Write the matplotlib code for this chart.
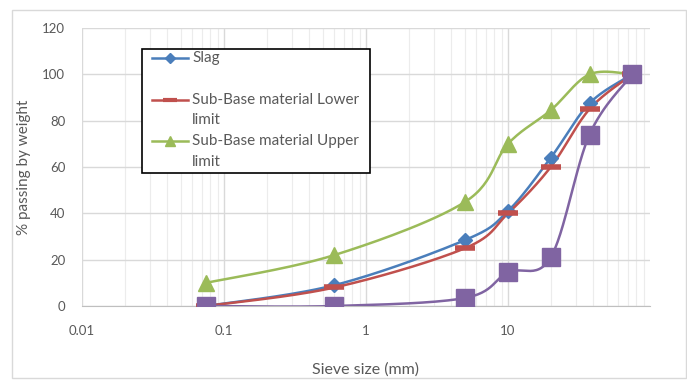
import numpy as np
import matplotlib
matplotlib.use("Agg")
import matplotlib.pyplot as plt
from matplotlib.patches import Rectangle
from matplotlib.lines import Line2D
from matplotlib.ticker import FixedLocator, NullFormatter

plt.rcParams['font.family'] = ['Lato', 'DejaVu Sans']

# sieve sizes (mm)
sieve = [0.075, 0.6, 5, 10, 20, 37.5, 75]

# % passing
slag = [0, 9, 28.5, 41, 64, 87.5, 100]
lower = [0, 8, 25, 40, 60, 85, 100]
upper = [10, 22, 45, 70, 84.5, 100, 100]
other = [0, 0, 3.5, 14.5, 21, 74, 100]

labels = ["Slag", "Sub-Base material Lower\nlimit", "Sub-Base material Upper\nlimit"]

W, H = 687, 381


def smooth(xs, ys, n=30):
    # Excel-like smoothed line: Catmull-Rom bezier in (log x, y) space
    lx = np.log10(xs)
    y = np.asarray(ys, float)
    px, py = [], []
    m = len(lx)
    for i in range(m - 1):
        p0 = (lx[max(i - 1, 0)], y[max(i - 1, 0)])
        p1 = (lx[i], y[i])
        p2 = (lx[i + 1], y[i + 1])
        p3 = (lx[min(i + 2, m - 1)], y[min(i + 2, m - 1)])
        c1 = (p1[0] + (p2[0] - p0[0]) / 6, p1[1] + (p2[1] - p0[1]) / 6)
        c2 = (p2[0] - (p3[0] - p1[0]) / 6, p2[1] - (p3[1] - p1[1]) / 6)
        t = np.linspace(0, 1, n)
        bx = (1-t)**3*p1[0] + 3*(1-t)**2*t*c1[0] + 3*(1-t)*t**2*c2[0] + t**3*p2[0]
        by = (1-t)**3*p1[1] + 3*(1-t)**2*t*c1[1] + 3*(1-t)*t**2*c2[1] + t**3*p2[1]
        px.extend(bx)
        py.extend(by)
    return 10 ** np.array(px), np.array(py)


fig = plt.figure(figsize=(W / 100, H / 100), dpi=100)
fig.patches.append(Rectangle((12/W, 3/H), 674/W, 368/H, transform=fig.transFigure,
                             fill=False, edgecolor='#d9d9d9', lw=1))
ax = fig.add_axes([82/W, 1-306/H, 568/W, 278/H])

series = [
    (slag, '#4a7ebb', 'D', 7, 1),
    (lower, '#c0504d', '_', 14, 4),
    (upper, '#9bbb59', '^', 11, 1),
    (other, '#8064a2', 's', 13, 1),
]
for vals, col, mk, ms, mew in series:
    sx, sy = smooth(sieve, vals)
    ax.plot(sx, sy, color=col, lw=1.8, zorder=3)
    ax.plot(sieve, vals, ls='none', marker=mk, ms=ms, mew=mew, color=col,
            mec=col, zorder=4)

ax.set_xscale('log')
ax.set_xlim(0.01, 100)
ax.set_ylim(0, 120)
ax.set_yticks(np.arange(0, 121, 20))
ax.xaxis.set_major_locator(FixedLocator([0.01, 0.1, 1, 10]))
ax.xaxis.set_minor_locator(FixedLocator(
    [k * 10.0 ** e for e in range(-2, 2) for k in range(2, 10)]))
ax.xaxis.set_minor_formatter(NullFormatter())
ax.set_xticklabels(['0.01', '0.1', '1', '10'])
ax.grid(True, which='major', color='#d9d9d9', lw=1)
ax.grid(True, which='minor', axis='x', color='#ececec', lw=0.8)
ax.set_axisbelow(True)
for s in ['top', 'right', 'left']:
    ax.spines[s].set_visible(False)
ax.spines['bottom'].set_color('#bfbfbf')
ax.tick_params(which='both', length=0, colors='#595959', labelsize=9.5)
ax.tick_params(axis='x', pad=14)
ax.tick_params(axis='y', pad=12)

ax.set_xlabel('Sieve size (mm)', fontsize=11.5, color='#595959', labelpad=18)
ax.set_ylabel('% passing by weight', fontsize=11, color='#595959', labelpad=8)

# Excel-style legend: equal-height entries, handle aligned with first text line
fig.patches.append(Rectangle((142/W, 1-173/H), 228/W, 124/H, transform=fig.transFigure,
                             facecolor='white', edgecolor='black', lw=1.2, zorder=5))
for i, ((vals, col, mk, ms, mew), lab) in enumerate(zip(series[:3], labels)):
    y0 = 58 + i * 41.5
    fig.lines.append(Line2D([152/W, 188/W], [1-y0/H, 1-y0/H], transform=fig.transFigure,
                            color=col, lw=1.8, zorder=6))
    fig.lines.append(Line2D([170/W], [1-y0/H], transform=fig.transFigure, color=col,
                            marker=mk, ms=ms * 0.7, mew=3 if mk == '_' else 1,
                            mec=col, zorder=7))
    for j, line in enumerate(lab.split('\n')):
        fig.text(192/W, 1-(y0 + 21 * j)/H, line, fontsize=11, color='#595959',
                 va='center', ha='left', zorder=7)

fig.savefig('out.png', dpi=100)
